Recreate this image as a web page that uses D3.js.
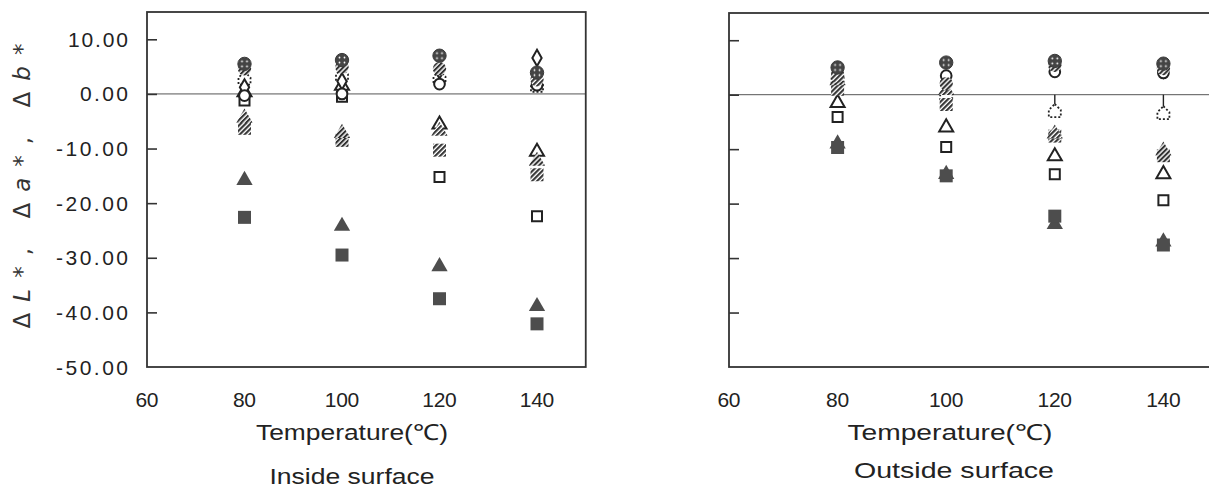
<!DOCTYPE html>
<html><head><meta charset="utf-8">
<script src="https://cdn.jsdelivr.net/npm/d3@7"></script>
<style>html,body{margin:0;padding:0;background:#fff;}svg{display:block;}</style>
</head><body>
<svg id="chart" width="1209" height="488"></svg>
<script>
// ---- data ----
const temperatures = [80, 100, 120, 140];
const xTickLabels = [60, 80, 100, 120, 140];
const yTickValues = [10, 0, -10, -20, -30, -40, -50];
const panelTitles = ["Inside surface", "Outside surface"];
const xAxisTitle = "Temperature(℃)";

// Inside surface
const filledSquareIn   = [-22.6, -29.5, -37.5, -42.1];
const filledTriangleIn = [-15.8, -24.2, -31.6, -38.9];
const openSquareIn     = [-1.2, -0.5, -15.2, -22.4];
const openTriangleIn   = [0.3, 1.5, -5.6, -10.6];
const hatchSquareIn    = [-6.3, -8.5, -10.3, -14.8];
const hatchTriangleIn  = [-4.4, -7.2, -6.8, -12.3];
const dotCircleIn      = [5.5, 6.2, 7.0, 3.9];
const openCircleIn     = [-0.3, 0.0, 1.8, 1.6];
const openDiamondIn    = [1.2, 2.3, 4.3, 6.6];
const hatchCircleIn    = [4.6, 4.9, 4.6, 2.6];
const dashedShapeIn    = [2.8, 3.4, 3.0, 1.5];

// Outside surface
const filledSquareOut   = [-9.7, -14.9, -22.3, -27.6];
const filledTriangleOut = [-9.0, -14.6, -23.8, -27.0];
const openSquareOut     = [-4.1, -9.6, -14.6, -19.4];
const openTriangleOut   = [-1.5, -6.0, -11.3, -14.6];
const hatchSquareOut    = [1.0, -1.8, -7.6, -11.2];
const hatchTriangleOut  = [2.6, 0.8, -7.2, -10.3];
const dotCircleOut      = [5.0, 5.9, 6.2, 5.7];
const openCircleOut     = [3.8, 3.5, 4.2, 4.0];
const openDiamondOut    = [4.4, 2.5, 5.0, 4.6];
const hatchCircleOut    = [3.4, 2.0, 5.4, 4.8];
const dashedShapeOut    = [3.0, 0.0, -3.0, -3.4];

const seriesOrder = ["dashedShape","openSquare","openTriangle","hatchSquare","hatchTriangle",
  "openDiamond","openCircle","hatchCircle","dotCircle","filledTriangle","filledSquare"];

const insideData = {filledSquare:filledSquareIn, filledTriangle:filledTriangleIn, openSquare:openSquareIn,
  openTriangle:openTriangleIn, hatchSquare:hatchSquareIn, hatchTriangle:hatchTriangleIn, dotCircle:dotCircleIn,
  openCircle:openCircleIn, openDiamond:openDiamondIn, hatchCircle:hatchCircleIn, dashedShape:dashedShapeIn};
const outsideData = {filledSquare:filledSquareOut, filledTriangle:filledTriangleOut, openSquare:openSquareOut,
  openTriangle:openTriangleOut, hatchSquare:hatchSquareOut, hatchTriangle:hatchTriangleOut, dotCircle:dotCircleOut,
  openCircle:openCircleOut, openDiamond:openDiamondOut, hatchCircle:hatchCircleOut, dashedShape:dashedShapeOut};

// ---- drawing ----
const svg = d3.select("#chart");
const ink = "#333";
const markFill = "#4d4d4d";
const labelFont = "Liberation Sans Narrow, Liberation Sans, Arial, sans-serif";
const defs = svg.append("defs");
const hatch = defs.append("pattern").attr("id","hatch").attr("patternUnits","userSpaceOnUse")
  .attr("width",3.5).attr("height",3.5).attr("patternTransform","rotate(45)");
hatch.append("rect").attr("width",3.5).attr("height",3.5).attr("fill","#fff");
hatch.append("rect").attr("width",2.1).attr("height",3.5).attr("fill","#333");
const dots = defs.append("pattern").attr("id","dots").attr("patternUnits","userSpaceOnUse")
  .attr("width",5).attr("height",5);
dots.append("rect").attr("width",5).attr("height",5).attr("fill","#444");
dots.append("circle").attr("cx",2.5).attr("cy",2.5).attr("r",0.9).attr("fill","#fff");

const panels = [
  {data: insideData, x0: 147, x1: 585.75, top: 12, title: panelTitles[0], titleX: 352, titleY: 484,
   axisTitleX: 352, axisTitleW: 192, titleW: 165, yLabels: true},
  {data: outsideData, x0: 729, x1: 1217.7, top: 13, title: panelTitles[1], titleX: 954, titleY: 478,
   axisTitleX: 950, axisTitleW: 205, titleW: 200, yLabels: false}
];

function markerPath(kind) {
  const sym = d3.symbol();
  if (kind.endsWith("Square")) return sym.type(d3.symbolSquare).size(kind==="openSquare"?100:169)();
  if (kind.endsWith("Triangle")) return sym.type(d3.symbolTriangle).size(kind==="openTriangle"?85:115)();
  if (kind.endsWith("Circle")) return sym.type(d3.symbolCircle).size(kind==="openCircle"?90:140)();
  if (kind === "openDiamond") return sym.type(d3.symbolDiamond).size(75)();
  return "M0,-7 L6,-1 L6,6 L-6,6 L-6,-1 Z"; // dashed house shape
}
function markerStyle(sel, kind) {
  if (kind.startsWith("filled")) sel.attr("fill", markFill).attr("stroke","none");
  else if (kind.startsWith("open")) sel.attr("fill","#fff").attr("stroke","#222").attr("stroke-width",2);
  else if (kind.startsWith("hatch")) sel.attr("fill","url(#hatch)").attr("stroke","none");
  else if (kind === "dotCircle") sel.attr("fill","url(#dots)").attr("stroke","#3a3a3a").attr("stroke-width",1);
  else sel.attr("fill","#fff").attr("stroke","#222").attr("stroke-width",1.8).attr("stroke-dasharray","2,2");
}

panels.forEach(p => {
  const x = d3.scaleLinear().domain([60, 150]).range([p.x0, p.x1]);
  const g = svg.append("g");
  const yp = d3.scaleLinear().domain([-50, 15]).range([367, p.top]);

  // zero line
  g.append("line").attr("x1", x(60)).attr("x2", x(150)).attr("y1", yp(0)).attr("y2", yp(0))
    .attr("stroke","#555").attr("stroke-width",1);

  // y ticks (inward)
  const yAxis = d3.axisRight(yp).tickValues(yTickValues.filter(v => v > -50)).tickSize(10).tickFormat("");
  const ya = g.append("g").attr("transform", `translate(${x(60)},0)`).call(yAxis);
  ya.select(".domain").remove();
  ya.selectAll("line").attr("stroke", ink).attr("stroke-width", 1.6);

  // frame
  g.append("rect").attr("x", x(60)).attr("y", yp(15)).attr("width", x(150)-x(60)).attr("height", yp(-50)-yp(15))
    .attr("fill","none").attr("stroke", ink).attr("stroke-width", 1.8);

  // y tick labels
  if (p.yLabels) {
    g.selectAll(".ylab").data(yTickValues).join("text")
      .attr("x", 128).attr("y", d => yp(d)).attr("dy","0.36em").attr("text-anchor","end")
      .attr("font-family", labelFont).attr("font-size",21).attr("fill","#222")
      .text(d => d3.format(".2f")(d).replace("−","-"))
      .attr("textLength", d => d3.format(".2f")(d).length * 12).attr("lengthAdjust","spacing");
    g.append("text").attr("transform","translate(30,186) rotate(-90)").attr("text-anchor","middle")
      .attr("font-family","DejaVu Sans, sans-serif").attr("font-size",23).attr("fill","#333")
      .attr("textLength", 285).attr("lengthAdjust","spacing")
      .call(t => {
        [["Δ",false],["L",true],["*, ",false],["Δ",false],["a",true],["*, ",false],["Δ",false],["b",true],["*",false]]
          .forEach(([s, it]) => t.append("tspan").attr("font-style", it ? "italic" : "normal").text(s));
      });
  }

  // x tick labels
  g.selectAll(".xlab").data(xTickLabels).join("text")
    .attr("x", d => x(d)).attr("y", 407).attr("text-anchor","middle")
    .attr("font-family", labelFont).attr("font-size",21).attr("fill","#222")
    .text(d => d)
    .attr("textLength", d => String(d).length * 11.5).attr("lengthAdjust","spacing");

  // axis title and panel title
  g.append("text").attr("x", p.axisTitleX).attr("y", 440).attr("text-anchor","middle")
    .attr("font-family", labelFont).attr("font-size",22).attr("fill","#222")
    .attr("textLength", p.axisTitleW).attr("lengthAdjust","spacingAndGlyphs").text(xAxisTitle);
  g.append("text").attr("x", p.titleX).attr("y", p.titleY).attr("text-anchor","middle")
    .attr("font-family", labelFont).attr("font-size",22).attr("fill","#222")
    .attr("textLength", p.titleW).attr("lengthAdjust","spacingAndGlyphs").text(p.title);

  // stems for dashed markers below zero
  const dvals = p.data.dashedShape;
  g.selectAll(".stem").data(temperatures.map((t,i)=>({t, v:dvals[i]})).filter(d => d.v < 0)).join("line")
    .attr("x1", d => x(d.t)).attr("x2", d => x(d.t)).attr("y1", yp(0)).attr("y2", d => yp(d.v) - 7)
    .attr("stroke","#222").attr("stroke-width",1.4);

  // markers
  seriesOrder.forEach(kind => {
    const vals = p.data[kind];
    g.selectAll(null).data(temperatures.map((t,i)=>({t, v: vals[i]}))).join("path")
      .attr("d", markerPath(kind))
      .attr("transform", d => `translate(${x(d.t)},${yp(d.v)})`)
      .call(s => markerStyle(s, kind));
  });
});
</script>
</body></html>
